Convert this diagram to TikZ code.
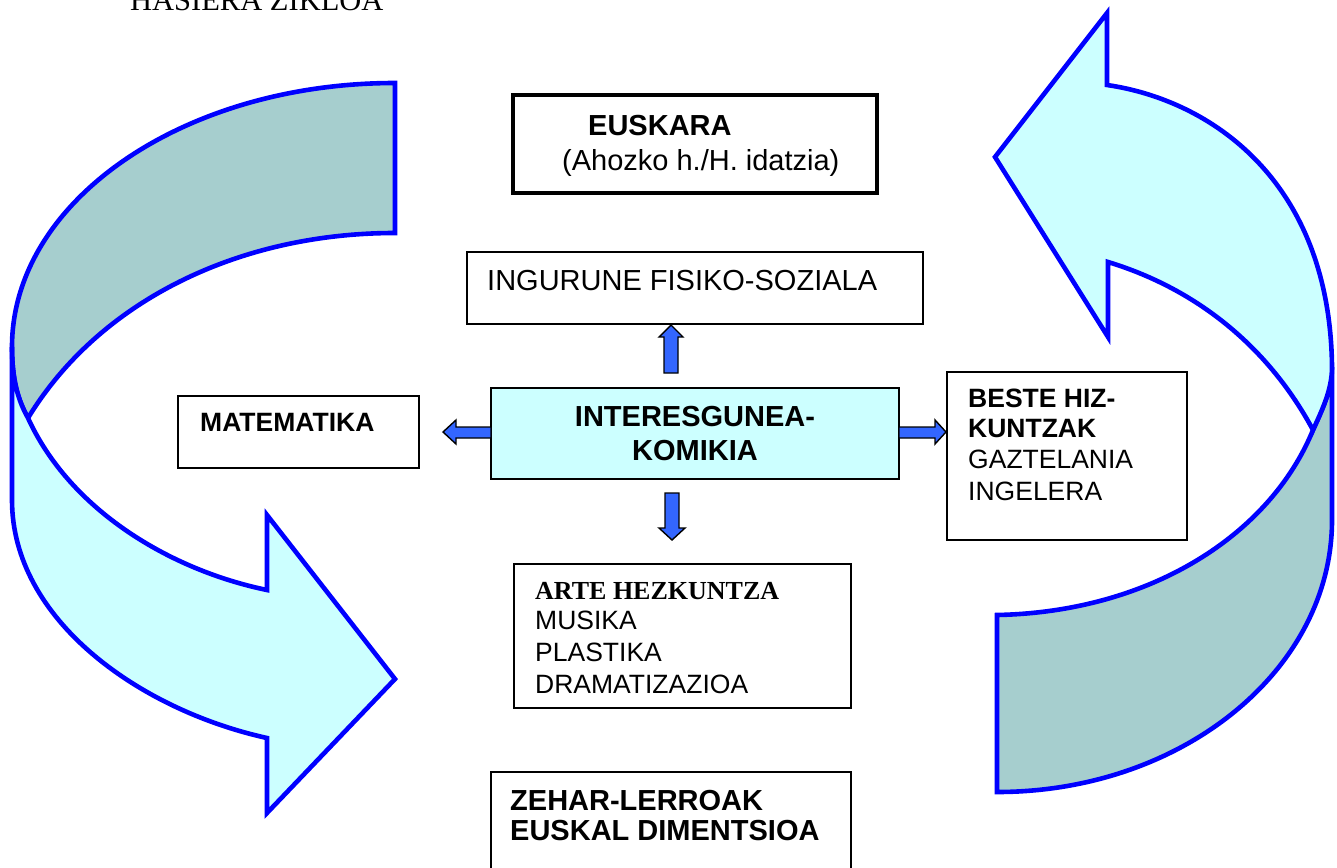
\documentclass[tikz,border=0pt]{standalone}
\usepackage{fontspec}
\setmainfont{Liberation Sans}
\newfontfamily\serifface{Liberation Serif}
\definecolor{cyanfill}{HTML}{CCFFFF}
\definecolor{tealfill}{HTML}{A6CECE}
\definecolor{ribbonblue}{HTML}{0000FF}
\definecolor{blkblue}{HTML}{3366FF}
\newcommand\szA{\fontsize{29}{32}\selectfont}
\newcommand\szB{\fontsize{26.5}{31}\selectfont}
\begin{document}
\begin{tikzpicture}[x=1pt,y=-1pt,
  ribbon/.style={draw=ribbonblue,line width=4.6pt,line join=miter},
  frontface/.style={ribbon,fill=cyanfill},
  backface/.style={ribbon,fill=tealfill},
  box/.style={draw=black,line width=1.7pt,rectangle,inner sep=0pt},
  blk/.style={fill=blkblue,draw=black,line width=1.4pt,line join=miter},
  lbl/.style={anchor=base west,inner sep=0pt},
  clbl/.style={anchor=base,inner sep=0pt}]
\useasboundingbox[fill=white] (0,0) rectangle (1337,867);

% title (cut at top, as in the reference)
\node[lbl,font=\serifface\fontsize{30.5}{32}\selectfont] (title) at (130,11) {HASIERA ZIKLOA};

% left curved arrow
\path[backface] (395,83) -- (395,233) .. controls (240,233) and (100,300) .. (28,418)
  .. controls (18,400) and (12,380) .. (12,347)
  .. controls (12,201) and (183.5,83) .. (395,83) -- cycle;
\path[frontface] (12,347) -- (12,500) .. controls (12,620) and (140,710) .. (267,738)
  -- (267,813) -- (395,679) -- (267,515) -- (267,590)
  .. controls (170,570) and (70,510) .. (28,418)
  .. controls (18,400) and (12,380) .. (12,347) -- cycle;

% right curved arrow
\path[backface] (1332,367) -- (1332,520) .. controls (1332,670) and (1182,792) .. (997,792)
  -- (997,615) .. controls (1150,612) and (1270,535) .. (1313,430)
  .. controls (1322,410) and (1332,390) .. (1332,367) -- cycle;
\path[frontface] (1107,85) -- (1107,13) -- (995,157) -- (1108,337) -- (1108,262)
  .. controls (1200,290) and (1270,350) .. (1313,430)
  .. controls (1322,410) and (1332,390) .. (1332,367)
  .. controls (1330,180) and (1210,100) .. (1107,85) -- cycle;

% boxes
\node[box,line width=4pt,minimum width=364pt,minimum height=98pt] (eus) at (695,144) {};
\node[box,minimum width=456pt,minimum height=72pt] (ing) at (695,288) {};
\node[box,fill=cyanfill,minimum width=408pt,minimum height=91pt] (ctr) at (695,433.5) {};
\node[box,minimum width=241pt,minimum height=72pt] (mat) at (298.5,432) {};
\node[box,minimum width=240pt,minimum height=168pt] (beste) at (1067,456) {};
\node[box,minimum width=337pt,minimum height=144pt] (arte) at (682.5,636) {};
\node[box,minimum width=360pt,minimum height=128pt] (zehar) at (671,836) {};

% texts
\node[lbl,font=\szA\bfseries] (t1) at (588,135) {EUSKARA};
\node[lbl,font=\szA] (t2) at (562,170) {(Ahozko h./H. idatzia)};
\node[lbl,font=\szA] (t3) at (487,290) {INGURUNE FISIKO-SOZIALA};
\node[clbl,font=\szA\bfseries] (t4) at (695,426) {INTERESGUNEA-};
\node[clbl,font=\szA\bfseries] (t5) at (695,460) {KOMIKIA};
\node[lbl,font=\szB\bfseries] (t6) at (200,431) {MATEMATIKA};
\node[lbl,font=\szB\bfseries] (t7) at (968,407) {BESTE HIZ-};
\node[lbl,font=\szB\bfseries] (t8) at (968,437) {KUNTZAK};
\node[lbl,font=\szB] (t9) at (968,468) {GAZTELANIA};
\node[lbl,font=\szB] (t10) at (968,500) {INGELERA};
\node[lbl,font=\serifface\fontsize{26}{30}\selectfont\bfseries] (t11) at (535,599) {ARTE HEZKUNTZA};
\node[lbl,font=\szB] (t12) at (535,629) {MUSIKA};
\node[lbl,font=\szB] (t13) at (535,661) {PLASTIKA};
\node[lbl,font=\szB] (t14) at (535,693) {DRAMATIZAZIOA};
\node[lbl,font=\szA\bfseries] (t15) at (510,810) {ZEHAR-LERROAK};
\node[lbl,font=\szA\bfseries] (t16) at (510,840) {EUSKAL DIMENTSIOA};

% block arrows from the centre
\path[blk] (664,373) -- (664,337) -- (659,337) -- (671,325) -- (683,337) -- (678,337) -- (678,373) -- cycle;
\path[blk] (665,493) -- (665,528) -- (659,528) -- (672,540) -- (685,528) -- (679,528) -- (679,493) -- cycle;
\path[blk] (491,427) -- (456,427) -- (456,420) -- (443,432) -- (456,444) -- (456,438) -- (491,438) -- cycle;
\path[blk] (899,427) -- (935,427) -- (935,420) -- (946,432) -- (935,444) -- (935,438) -- (899,438) -- cycle;
\end{tikzpicture}
\end{document}
